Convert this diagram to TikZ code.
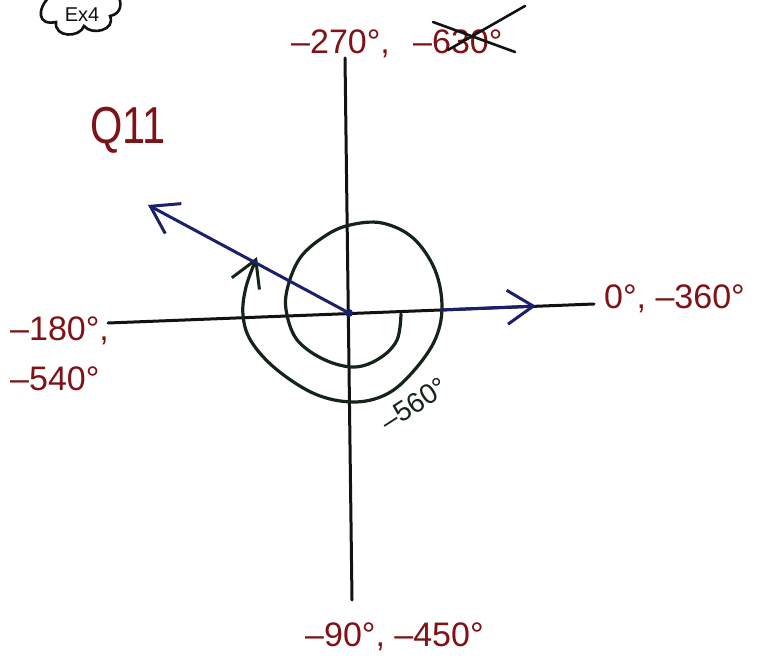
\documentclass[tikz,border=0pt]{standalone}
\usepackage{fontspec}
\usepackage{graphicx}
\setmainfont{Liberation Sans}
\usetikzlibrary{arrows.meta}
\definecolor{ink}{HTML}{121212}
\definecolor{redink}{HTML}{7E1216}
\definecolor{blueink}{HTML}{1C1F6B}
\definecolor{greenink}{HTML}{142418}
\tikzset{
  axisline/.style={ink, line width=3pt, line cap=round},
  vec/.style={blueink, line width=3pt, line cap=round, line join=round,
    -{Straight Barb[length=26pt, width=34pt, line width=3pt]}},
  spiral/.style={greenink, line width=3.2pt, line cap=round, line join=round,
    -{Straight Barb[length=26pt, width=30pt, line width=3pt]}},
  lbl/.style={redink, inner sep=0pt, font=\fontsize{34}{38}\selectfont},
  glbl/.style={greenink, inner sep=0pt, font=\fontsize{28}{32}\selectfont},
}
\begin{document}
\begin{tikzpicture}[x=1pt, y=-1pt]
\useasboundingbox (0,0) rectangle (784,663);
\fill[white] (0,0) rectangle (784,663);
\clip (0,0) rectangle (784,663);

% cloud at the top (cut off)
\draw[ink, line width=2.6pt, line cap=round]
  (50,-4) .. controls (36,10) and (38,26) .. (56,22)
  .. controls (54,38) and (80,38) .. (84,26)
  .. controls (92,36) and (116,30) .. (110,16)
  .. controls (122,14) and (122,2) .. (118,-4);
\node[ink, inner sep=0pt, font=\fontsize{20}{22}\selectfont, anchor=base] (ex) at (82,22) {Ex4};

% axes
\coordinate (O) at (349,313);
\coordinate (T) at (345,58);
\coordinate (B) at (352,600);
\coordinate (L) at (108,323);
\coordinate (R) at (594,304);
\coordinate (Rs) at (441,310);
\coordinate (Rt) at (536,306);
\coordinate (P) at (148,205);
\draw[axisline] (T) -- (B);
\draw[axisline] (L) -- (R);

% spiral
\draw[spiral] plot[smooth, tension=0.6] coordinates {
  (401,314) (397,340) (380,358) (355,367) (325,360) (298,341) (287,315)
  (287,290) (300,258) (325,236) (350,225) (382,223) (413,238) (435,270)
  (442,308) (434,342) (410,375) (385,395) (353,402) (315,394) (276,369)
  (251,341) (243,315) (246,287) (257,257)};

% vectors
\draw[vec] (Rs) -- (Rt);
\draw[vec] (O) -- (P);
\fill[blueink] (O) circle (4pt);

% labels
\node[lbl, anchor=base west] (n270) at (291,54) {–270°,};
\node[lbl, anchor=base west] (n630) at (413,54) {–630°};
\draw[ink, line width=2.6pt, line cap=round] (433,22) -- (515,52);
\draw[ink, line width=2.6pt, line cap=round] (448,50) -- (525,6);

\node[redink, inner sep=0pt, anchor=base west, font=\fontsize{52}{56}\selectfont] (q) at (90,144) {\scalebox{0.8}[1]{Q11}};

\node[lbl, anchor=base west] (n0) at (604,308) {0°, –360°};
\node[lbl, anchor=base west] (n180) at (10,340) {–180°,};
\node[lbl, anchor=base west] (n540) at (10,390) {–540°};
\node[lbl, anchor=base west] (n90) at (305,646) {–90°, –450°};
\node[glbl, rotate=33] (n560) at (414,404) {–560°};
\end{tikzpicture}
\end{document}
